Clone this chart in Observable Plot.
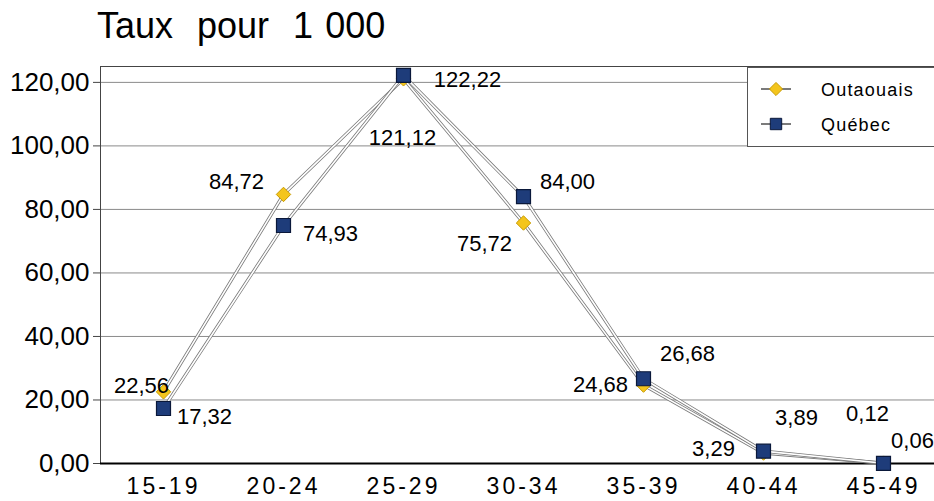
<!DOCTYPE html>
<html>
<head>
<meta charset="utf-8">
<script src="https://cdn.jsdelivr.net/npm/d3@7"></script>
<script src="https://cdn.jsdelivr.net/npm/@observablehq/plot@0.6"></script>
<style>
html, body { margin: 0; padding: 0; background: #fff; overflow: hidden; width: 934px; height: 501px; }
#wrap { position: relative; width: 934px; height: 501px; overflow: hidden; font-family: "Liberation Sans", Arial, sans-serif; }
#title { position: absolute; left: 97px; top: 8px; font-size: 36px; line-height: 36px; white-space: pre; color: #000; word-spacing: 2px; }
#chart { position: absolute; left: 0; top: 0; width: 946px; }
#chart svg { max-width: none !important; width: 946px; height: 501px; }
#legend { position: absolute; left: 747px; top: 67px; width: 200px; height: 78px; border: 1px solid #555; background: #fff; }
g[aria-label="x-axis tick label"] text { letter-spacing: 3px; font-size: 23px; }
g[aria-label="y-axis tick label"] text { font-size: 26px; }
</style>
</head>
<body>
<div id="wrap">
  <div id="chart"></div>
  <div id="title">Taux  pour  1 000</div>
  <div id="legend"></div>
</div>
<script>
const categories = ["15-19", "20-24", "25-29", "30-34", "35-39", "40-44", "45-49"];
const outaouais = [22.56, 84.72, 121.12, 75.72, 24.68, 3.29, 0.12];
const quebec = [17.32, 74.93, 122.22, 84.00, 26.68, 3.89, 0.06];
const yTicks = [0, 20, 40, 60, 80, 100, 120];
const seriesNames = ["Outaouais", "Québec"];

// label placement offsets (style only)
const outOffsets = [[-22, -6], [-47, -12], [-1, 59], [-39, 21], [-43, 0], [-50, -4], [-16, -49]];
const qcOffsets = [[41, 8], [47, 8], [64, 5], [44, -15], [44, -25], [33, -33], [29, -22]];

const fmt = v => v.toFixed(2).replace(".", ",");
const outRows = categories.map((c, i) => ({cat: c, value: outaouais[i]}));
const qcRows = categories.map((c, i) => ({cat: c, value: quebec[i]}));

const outFill = "#f4c51c", outStroke = "#c89b00";
const qcFill = "#1e3c7a", qcStroke = "#0a183a";

const labels = (rows, offs) => rows.map((d, i) =>
  Plot.text([d], {x: "cat", y: "value", text: r => fmt(r.value), dx: offs[i][0], dy: offs[i][1],
    fontSize: 22, fill: "#000"}));

const chart = Plot.plot({
  width: 946,
  height: 501,
  marginLeft: 100,
  marginRight: 0,
  marginTop: 66,
  marginBottom: 38,
  style: {fontFamily: "Liberation Sans, Arial, sans-serif", background: "transparent", color: "#000", maxWidth: "none"},
  x: {type: "point", domain: categories, padding: 0.5, label: null},
  y: {domain: [0, 125], label: null},
  marks: [
    Plot.ruleY(yTicks.filter(t => t > 0), {stroke: "#8a8a8a", strokeWidth: 1}),
    Plot.frame({stroke: "#444"}),
    Plot.axisY(yTicks, {tickSize: 7, tickPadding: 4, tickFormat: fmt, fontSize: 26, stroke: "#444", label: null}),
    Plot.axisX({tickSize: 0, tickPadding: 14, fontSize: 23, label: null}),
    Plot.ruleY([0], {stroke: "#000", strokeWidth: 2.2}),
    Plot.line(outRows, {x: "cat", y: "value", stroke: "#7a7a7a", strokeWidth: 3.2}),
    Plot.line(outRows, {x: "cat", y: "value", stroke: "#fff", strokeWidth: 1.6}),
    Plot.line(qcRows, {x: "cat", y: "value", stroke: "#7a7a7a", strokeWidth: 3.2}),
    Plot.line(qcRows, {x: "cat", y: "value", stroke: "#fff", strokeWidth: 1.6}),
    Plot.dot(outRows, {x: "cat", y: "value", symbol: "diamond2", r: 6.5, fill: outFill, stroke: outStroke, strokeWidth: 1}),
    Plot.dot(qcRows, {x: "cat", y: "value", symbol: "square", r: 7.9, fill: qcFill, stroke: qcStroke, strokeWidth: 1.2}),
    ...labels(outRows, outOffsets),
    ...labels(qcRows, qcOffsets)
  ]
});
document.getElementById("chart").appendChild(chart);

// Legend
const lg = d3.select("#legend").append("svg").attr("width", 200).attr("height", 78);
const items = [
  {name: seriesNames[0], y: 21, sym: d3.symbolDiamond2, size: 110, fill: outFill, stroke: outStroke},
  {name: seriesNames[1], y: 56, sym: d3.symbolSquare, size: 130, fill: qcFill, stroke: qcStroke}
];
items.forEach(it => {
  lg.append("line").attr("x1", 13).attr("x2", 43).attr("y1", it.y).attr("y2", it.y)
    .attr("stroke", "#222").attr("stroke-width", 1.2);
  lg.append("path").attr("d", d3.symbol(it.sym, it.size)()).attr("transform", `translate(28,${it.y})`)
    .attr("fill", it.fill).attr("stroke", it.stroke);
  lg.append("text").attr("x", 73).attr("y", it.y + 7).text(it.name)
    .attr("font-family", "Liberation Sans, Arial, sans-serif").attr("font-size", 18)
    .attr("letter-spacing", "1.2px").attr("fill", "#000");
});
</script>
</body>
</html>
